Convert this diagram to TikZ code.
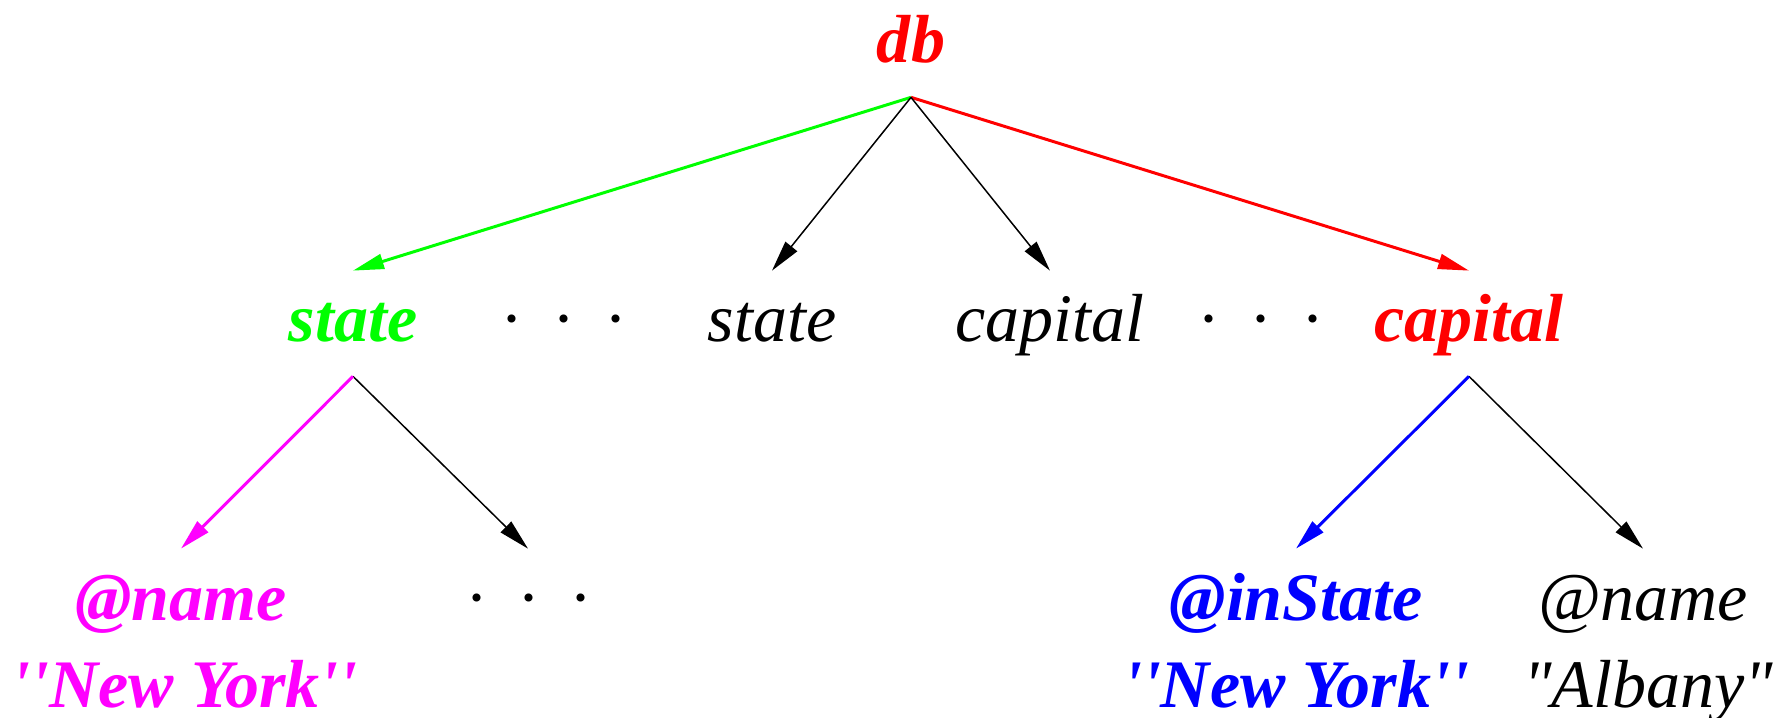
\documentclass[tikz,border=0pt]{standalone}
\usepackage{fontspec}
\setmainfont{Liberation Serif}
\usetikzlibrary{arrows.meta}
\usetikzlibrary{positioning}
\definecolor{nmmag}{RGB}{255,0,255}
\definecolor{nmgreen}{RGB}{0,255,0}
\definecolor{nmred}{RGB}{255,0,0}
\definecolor{nmblue}{RGB}{0,0,255}
\newcommand{\tsz}{\fontsize{38.7}{46}\selectfont}
\newcommand{\ddd}{·\hspace{0.7cm}·\hspace{0.7cm}·}
\newcommand{\sq}{\textquotesingle}
\tikzset{
  lbl/.style={inner sep=0pt, text height=1.42cm, text depth=0.68cm, font=\tsz\itshape},
  hot/.style={lbl, font=\tsz\bfseries\itshape},
  plainln/.style={->, line width=0.85pt},
  hotln/.style={->, line width=1.7pt}
}

\begin{document}
\begin{tikzpicture}[node distance=2cm, on grid, >={Triangle[length=0.62cm,width=0.3cm]}]
  \useasboundingbox (-18.22,0.89) rectangle (17.32,-13.47);
  \node (db) [hot, text=nmred] {db};
  \node (st1) [hot, text=nmgreen, below left=5.58cm and 11.16cm of db] {state};
  \node (dA) [lbl, right=4.2cm of st1] {\ddd};
  \node (st2) [lbl, right=4.18cm of dA] {state};
  \node (cap1) [lbl, right=5.56cm of st2] {capital};
  \node (dB) [lbl, right=4.2cm of cap1] {\ddd};
  \node (cap2) [hot, text=nmred, right=4.18cm of dB] {capital};
  \node (nm1) [hot, text=nmmag, below left=5.56cm and 3.44cm of st1] {@name};
  \node (dC) [lbl, below right=5.56cm and 3.5cm of st1] {\ddd};
  \node (inst) [hot, text=nmblue, below left=5.56cm and 3.46cm of cap2] {@inState};
  \node (nm2) [lbl, below right=5.56cm and 3.48cm of cap2] {@name};
  \node (ny1) [hot, text=nmmag, below=1.74cm of nm1, xshift=0.07cm] {\sq\sq New York\sq\sq};
  \node (ny2) [hot, text=nmblue, below=1.74cm of inst] {\sq\sq New York\sq\sq};
  \node (alb) [lbl, below=1.74cm of nm2, xshift=0.1cm] {\textquotedbl Albany\textquotedbl};
  \draw[hotln, nmgreen] (db.south) -- (st1.north);
  \draw[hotln, nmred] (db.south) -- (cap2.north);
  \path[plainln]
  (db.south) edge (st2.north)
  (db.south) edge (cap1.north)
  (st1.south) edge (dC.north)
  (cap2.south) edge (nm2.north);
  \draw[hotln, nmmag] (st1.south) -- (nm1.north);
  \draw[hotln, nmblue] (cap2.south) -- (inst.north);
\end{tikzpicture}
\end{document}
